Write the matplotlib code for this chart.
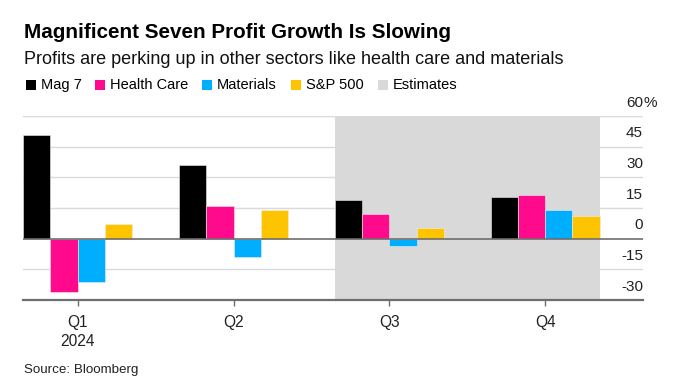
import matplotlib
matplotlib.use("Agg")
import matplotlib.pyplot as plt
import matplotlib.transforms as mtransforms
from matplotlib.patches import Rectangle
import numpy as np

plt.rcParams["font.family"] = ["Liberation Sans", "DejaVu Sans"]

# ── data ────────────────────────────────────
quarters = ["Q1\n2024", "Q2", "Q3", "Q4"]
mag7 = [50.9, 36.2, 18.8, 20.2]
health_care = [-26.3, 16.0, 12.1, 21.4]
materials = [-21.0, -8.8, -3.4, 14.2]
sp500 = [7.2, 14.0, 5.4, 11.1]
y_ticks = [-30, -15, 0, 15, 30, 45, 60]
estimate_quarters = [2, 3]

series = [
    ("Mag 7", mag7, "#000000"),
    ("Health Care", health_care, "#FF0A8C"),
    ("Materials", materials, "#00AEFF"),
    ("S&P 500", sp500, "#FFC400"),
]
C_EST = "#D9D9D9"
C_GRID = "#DADADA"
C_AXIS = "#6E6E6E"

W, H = 679, 389
fig = plt.figure(figsize=(W / 100, H / 100), dpi=100)
fig.patch.set_facecolor("white")


def px(x, y):
    return x / W, 1 - y / H


ax_l, ax_r, ax_t, ax_b = 23, 643, 116, 300
ax = fig.add_axes([ax_l / W, 1 - ax_b / H, (ax_r - ax_l) / W, (ax_b - ax_t) / H])

x = np.arange(len(quarters))
bw = 0.175
ax.set_xlim(-0.351, 3.628)
ax.set_ylim(-30, 60)

# estimates shading
ax.axvspan(estimate_quarters[0] - 2 * bw, estimate_quarters[-1] + 2 * bw,
           color=C_EST, zorder=0, lw=0)

# grid
for t in y_ticks:
    if t in (0, -30):
        continue
    ax.axhline(t, color=C_GRID, lw=1.0, zorder=1)

for i, (name, vals, col) in enumerate(series):
    ax.bar(x + (i - 1.5) * bw, vals, width=bw, color=col, zorder=2,
           edgecolor="#EEEEEE", linewidth=0.4)

ax.axhline(0, color=C_AXIS, lw=1.2, zorder=3)

for s in ["top", "right", "left"]:
    ax.spines[s].set_visible(False)
ax.spines["bottom"].set_color(C_AXIS)
ax.spines["bottom"].set_linewidth(1.6)
ax.set_yticks([])
ax.set_xticks(x)
ax.set_xticklabels(quarters, fontsize=11.2, linespacing=1.3, color="#222222")
ax.tick_params(axis="x", length=4, width=1, color=C_AXIS, pad=7)
ax.set_facecolor("none")

# right-side value labels sitting above their lines
trans = mtransforms.blended_transform_factory(fig.transFigure, ax.transData)
for t in y_ticks:
    ax.text(ax_r / W, t + 6.5, f"{t}", transform=trans, ha="right", va="center",
            fontsize=11, color="#222222")
ax.text(ax_r / W, 60 + 6.5, "%", transform=trans, ha="left", va="center",
        fontsize=11, color="#222222")

# titles
fig.text(*px(24, 32), "Magnificent Seven Profit Growth Is Slowing",
         fontsize=14.9, fontweight="bold", va="center", ha="left")
fig.text(*px(24, 59), "Profits are perking up in other sectors like health care and materials",
         fontsize=13, va="center", ha="left", color="#111111")

# legend
legend = [(n, c) for n, _, c in series] + [("Estimates", C_EST)]
leg_x = [26, 95, 202, 291, 378]
for (name, col), lx in zip(legend, leg_x):
    sx, sy = px(lx, 90)
    fig.patches.append(Rectangle((sx, sy), 10 / W, 10 / H, transform=fig.transFigure,
                                 facecolor=col, edgecolor="none"))
    fig.text(*px(lx + 15, 85), name, fontsize=10.5, va="center", ha="left")

fig.text(*px(24, 370), "Source: Bloomberg", fontsize=9.6, va="center", ha="left",
         color="#222222")

fig.savefig("out.png", dpi=100, facecolor=fig.get_facecolor())
